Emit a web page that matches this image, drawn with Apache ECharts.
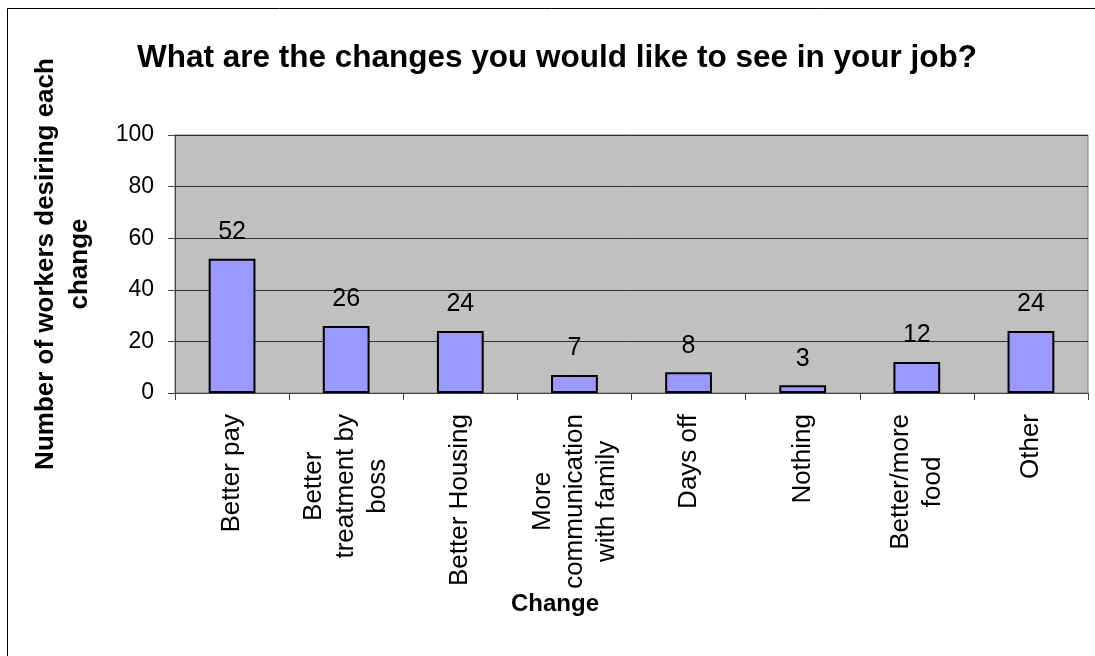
<!DOCTYPE html>
<html>
<head>
<meta charset="utf-8">
<script src="https://cdn.jsdelivr.net/npm/echarts@6/dist/echarts.min.js"></script>
<style>
html,body{margin:0;padding:0;background:#fff;}
#chart{width:1095px;height:656px;}
</style>
</head>
<body>
<div id="chart"></div>
<script>
const titleText = "What are the changes you would like to see in your job?";
const categories = [
  "Better pay",
  "Better\ntreatment by\nboss",
  "Better Housing",
  "More\ncommunication\nwith family",
  "Days off",
  "Nothing",
  "Better/more\nfood",
  "Other"
];
const values = [52, 26, 24, 7, 8, 3, 12, 24];
const yTicks = { min: 0, max: 100, interval: 20 };
const yAxisName = "Number of workers desiring each\nchange";
const xAxisName = "Change";

const FONT = "'Liberation Sans', Arial, sans-serif";
const CAT_FS = 26;

// Build centred multi-line category labels (block right-aligned to axis, lines centred)
const ctx = document.createElement('canvas').getContext('2d');
ctx.font = CAT_FS + "px 'Liberation Sans', Arial, sans-serif";
const rich = {};
let richCount = 0;
const labelMap = {};
categories.forEach(c => {
  const lines = c.split('\n');
  const widths = lines.map(l => ctx.measureText(l).width);
  const maxW = Math.max.apply(null, widths);
  labelMap[c] = lines.map((l, i) => {
    const pad = (maxW - widths[i]) / 2;
    const key = 'r' + (richCount++);
    rich[key] = { fontFamily: FONT, fontSize: CAT_FS, color: '#000', lineHeight: 32, padding: [0, pad, 0, pad] };
    return '{' + key + '|' + l + '}';
  }).join('\n');
});

const chart = echarts.init(document.getElementById('chart'));
chart.setOption({
  animation: false,
  backgroundColor: '#ffffff',
  title: {
    text: titleText,
    left: 552, top: 37, textAlign: 'center',
    textStyle: { fontFamily: FONT, fontSize: 31.5, fontWeight: 'bold', color: '#000' }
  },
  graphic: [{
    type: 'rect', silent: true,
    shape: { x: 7.5, y: 8.5, width: 1100, height: 700 },
    style: { fill: 'none', stroke: '#000', lineWidth: 1 }
  }],
  grid: {
    left: 175, right: 7, top: 135, bottom: 263,
    show: true, backgroundColor: '#c0c0c0', borderColor: '#808080', borderWidth: 1
  },
  xAxis: {
    type: 'category',
    data: categories,
    name: xAxisName,
    nameLocation: 'middle',
    nameGap: 194,
    nameTextStyle: { fontFamily: FONT, fontSize: 24, fontWeight: 'bold', color: '#000', padding: [0, 153, 0, 0] },
    axisLine: { lineStyle: { color: '#404040', width: 1 } },
    axisTick: { show: true, length: 7, alignWithLabel: false, lineStyle: { color: '#404040' } },
    axisLabel: {
      rotate: 90, interval: 0, margin: 21,
      fontFamily: FONT, fontSize: CAT_FS, color: '#000', lineHeight: 32,
      formatter: v => labelMap[v],
      rich: rich
    }
  },
  yAxis: {
    type: 'value',
    min: yTicks.min, max: yTicks.max, interval: yTicks.interval,
    name: yAxisName,
    nameLocation: 'middle',
    nameRotate: 90,
    nameGap: 78,
    nameTextStyle: { fontFamily: FONT, fontSize: 26, fontWeight: 'bold', color: '#000', lineHeight: 34 },
    axisLine: { show: true, lineStyle: { color: '#404040', width: 1 } },
    axisTick: { show: true, length: 7, lineStyle: { color: '#404040' } },
    axisLabel: { fontFamily: FONT, fontSize: 23, color: '#000', margin: 21 },
    splitLine: { show: true, lineStyle: { color: '#303030', width: 1 } }
  },
  series: [{
    type: 'bar',
    data: values,
    barWidth: '41%',
    itemStyle: { color: '#9999ff', borderColor: '#000', borderWidth: 2 },
    label: {
      show: true, position: 'top', distance: 14,
      fontFamily: FONT, fontSize: 25, color: '#000'
    }
  }]
});
</script>
</body>
</html>
